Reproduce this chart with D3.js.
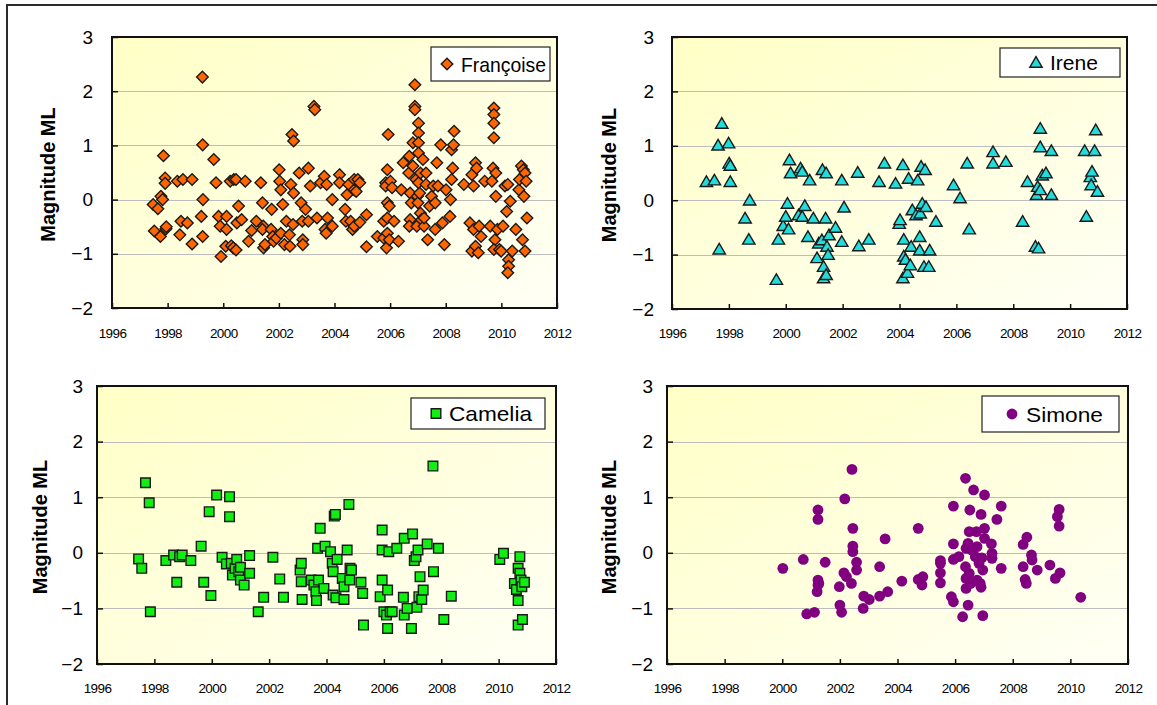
<!DOCTYPE html>
<html>
<head>
<meta charset="utf-8">
<script src="https://cdn.jsdelivr.net/npm/d3@7"></script>
<style>
  html, body { margin: 0; padding: 0; background: #ffffff; }
  svg { display: block; }
  text { font-family: "Liberation Sans", Arial, Helvetica, sans-serif; fill: #000; }
</style>
</head>
<body>
<svg id="chart" width="1157" height="705"></svg>
<script>
// ---------------- DATA ----------------
const xTickLabels = [1996, 1998, 2000, 2002, 2004, 2006, 2008, 2010, 2012];
const yTickLabels = [-2, -1, 0, 1, 2, 3];
const gridValues = [-1, 0, 1, 2];
const yAxisTitle = "Magnitude ML";
const seriesNames = ["Françoise", "Irene", "Camelia", "Simone"];

const francoise = [
[1997.52,-0.58],[1997.48,-0.09],[1997.65,-0.17],[1997.74,-0.68],[1997.76,0.06],[1997.82,0.0],[1997.85,0.81],[1997.91,0.4],[1997.91,0.3],[1997.94,-0.54],[1997.95,-0.5],
[1998.35,0.34],[1998.55,0.37],[1998.44,-0.65],[1998.48,-0.4],[1998.71,-0.43],[1998.88,0.37],[1998.88,-0.82],
[1999.25,2.26],[1999.26,1.01],[1999.27,0.0],[1999.21,-0.31],[1999.26,-0.68],[1999.66,0.74],[1999.74,0.31],[1999.83,-0.31],[1999.89,-0.49],[1999.92,-1.05],
[2000.12,-0.31],[2000.12,-0.55],[2000.09,-0.86],[2000.25,0.34],[2000.38,0.37],[2000.46,0.37],[2000.29,-0.85],[2000.36,-0.89],[2000.46,-0.93],[2000.55,-0.12],[2000.49,-0.43],[2000.66,-0.37],[2000.79,0.34],[2000.91,-0.77],
[2001.02,-0.57],[2001.19,-0.4],[2001.35,0.31],[2001.41,-0.06],[2001.44,-0.49],[2001.41,-0.55],[2001.45,-0.89],[2001.5,-0.83],[2001.74,-0.18],[2001.72,-0.55],[2001.78,-0.68],[2001.81,-0.77],[2001.91,-0.71],
[2002.01,0.55],[2002.03,0.34],[2002.07,0.18],[2002.07,-0.62],[2002.14,-0.09],[2002.2,-0.83],[2002.27,-0.4],[2002.38,-0.65],[2002.4,-0.86],[2002.43,0.28],[2002.47,1.2],[2002.53,1.08],[2002.53,0.12],[2002.51,-0.46],[2002.73,0.49],[2002.8,-0.06],[2002.84,-0.4],[2002.86,-0.74],[2002.86,-0.83],[2002.96,-0.18],
[2003.06,0.58],[2003.13,0.25],[2003.06,-0.4],[2003.26,1.72],[2003.29,1.66],[2003.37,-0.34],[2003.5,0.31],[2003.63,0.43],[2003.72,0.28],[2003.66,-0.55],[2003.7,-0.62],[2003.75,-0.34],[2003.92,0.0],[2003.92,-0.49],
[2004.18,0.46],[2004.18,0.31],[2004.38,-0.18],[2004.41,-0.4],[2004.45,0.09],[2004.51,0.28],[2004.58,-0.4],[2004.65,-0.55],[2004.71,-0.49],[2004.71,0.18],[2004.71,0.37],[2004.78,0.15],[2004.84,0.37],[2004.91,0.31],[2004.91,-0.42],
[2005.15,-0.28],[2005.15,-0.87],[2005.54,-0.68],[2005.77,-0.71],[2005.87,-0.89],[2005.93,1.2],[2005.9,0.55],[2005.84,0.31],[2005.84,0.25],[2005.9,-0.06],[2005.97,-0.12],[2005.77,-0.4],[2005.9,-0.34],[2005.9,-0.62],[2005.97,-0.74],
[2006.01,0.34],[2006.07,0.22],[2006.14,-0.4],[2006.3,-0.77],[2006.4,0.18],[2006.47,0.68],[2006.67,0.49],[2006.69,0.8],[2006.72,0.12],[2006.76,-0.06],[2006.72,-0.37],[2006.69,-0.49],[2006.82,1.05],[2006.82,0.62],[2006.89,2.12],[2006.89,1.72],[2006.89,1.66],[2006.96,-0.49],[2006.93,0.37],[2006.98,0.06],
[2007.0,-0.06],[2007.02,1.41],[2007.02,1.23],[2007.02,1.05],[2007.02,0.86],[2007.06,0.12],[2007.02,0.31],[2007.09,0.49],[2007.09,-0.25],[2007.13,-0.37],[2007.18,0.74],[2007.22,-0.49],[2007.29,0.49],[2007.22,-0.34],[2007.29,0.28],[2007.35,-0.74],[2007.42,-0.12],[2007.49,0.06],[2007.55,0.25],[2007.62,-0.06],[2007.62,-0.55],[2007.68,0.68],[2007.72,0.25],[2007.82,1.01],[2007.88,-0.43],[2007.95,-0.83],
[2008.01,0.18],[2008.15,-0.31],[2008.17,0.0],[2008.21,0.92],[2008.25,0.58],[2008.3,1.26],[2008.28,1.01],[2008.21,0.37],[2008.65,0.28],[2008.94,0.46],[2009.07,0.68],[2009.11,0.58],[2009.0,0.25],[2008.87,-0.43],[2009.0,-0.55],[2008.94,-0.95],[2009.07,-0.86],[2009.17,-0.98],[2009.2,-0.49],[2009.27,-0.68],
[2009.4,0.34],[2009.6,-0.49],[2009.73,1.69],[2009.73,1.57],[2009.73,1.41],[2009.73,1.14],[2009.7,0.58],[2009.66,0.34],[2009.8,0.49],[2009.8,0.06],[2009.77,-0.74],[2009.73,-0.92],[2009.86,-0.55],[2009.93,-0.92],[2009.99,-0.95],
[2010.06,-0.49],[2010.13,0.25],[2010.19,-0.22],[2010.23,0.28],[2010.26,-1.11],[2010.26,-1.23],[2010.23,-1.35],[2010.32,-0.03],[2010.39,-0.95],[2010.52,-0.55],[2010.63,0.18],[2010.65,0.37],[2010.72,0.62],[2010.76,-0.74],[2010.79,0.55],[2010.81,0.06],[2010.85,0.49],[2010.85,-0.95],[2010.89,0.34],[2010.92,-0.34]
];

const irene = [
[1997.21,0.34],[1997.49,0.37],[1997.62,1.01],[1997.75,1.41],[1997.66,-0.9],[1997.99,1.05],[1998.01,0.68],[1998.05,0.64],[1998.05,0.34],[1998.57,-0.33],[1998.73,0.0],[1998.7,-0.72],
[1999.67,-1.46],[1999.74,-0.72],[1999.91,-0.47],[2000.0,-0.3],[2000.06,-0.06],[2000.1,-0.53],[2000.13,0.74],[2000.17,0.5],[2000.45,-0.27],[2000.52,0.59],[2000.58,0.53],[2000.58,-0.3],[2000.67,-0.1],[2000.78,-0.67],[2000.84,0.37],[2000.97,-0.33],
[2001.1,-1.06],[2001.16,-0.79],[2001.27,-0.73],[2001.29,0.56],[2001.42,0.5],[2001.4,-0.33],[2001.33,-1.22],[2001.33,-1.43],[2001.42,-1.37],[2001.45,-0.85],[2001.49,-1.0],[2001.52,-0.64],[2001.75,-0.5],[2001.97,0.37],[2001.97,-0.76],[2002.05,-0.13],
[2002.53,0.51],[2002.57,-0.84],[2002.92,-0.72],[2003.28,0.34],[2003.47,0.68],[2003.86,0.31],[2003.99,-0.43],[2004.02,-0.36],[2004.12,0.65],[2004.15,-0.72],[2004.15,-1.03],[2004.21,-1.09],[2004.12,-1.43],[2004.28,-1.33],[2004.32,0.4],[2004.38,-1.19],[2004.41,-0.85],[2004.45,-0.18],
[2004.58,-0.27],[2004.64,0.37],[2004.71,-0.67],[2004.71,-0.92],[2004.73,-0.24],[2004.76,0.62],[2004.8,-0.06],[2004.86,-1.22],[2004.9,0.56],[2004.93,-0.12],[2005.03,-1.22],[2005.06,-0.92],[2005.28,-0.39],
[2005.9,0.28],[2006.13,0.04],[2006.38,0.68],[2006.45,-0.53],[2007.29,0.89],[2007.29,0.68],[2007.74,0.71],
[2008.33,-0.39],[2008.5,0.34],[2008.78,-0.85],[2008.82,0.1],[2008.86,0.25],[2008.89,-0.88],[2008.95,1.32],[2008.95,0.98],[2009.02,0.46],[2008.95,0.19],[2009.15,0.5],[2009.34,0.91],[2009.34,0.1],
[2010.51,0.91],[2010.57,-0.3],[2010.71,0.43],[2010.77,0.53],[2010.74,0.28],[2010.86,0.91],[2010.9,1.29],[2010.96,0.16]
];

const camelia = [
[1997.45,-0.11],[1997.56,-0.28],[1997.69,1.26],[1997.82,0.9],[1997.86,-1.06],[1998.4,-0.14],[1998.67,-0.04],[1998.78,-0.53],[1998.88,-0.07],[1998.97,-0.04],[1999.27,-0.14],[1999.63,0.12],[1999.72,-0.53],[1999.91,0.74],[1999.97,-0.77],
[2000.17,1.04],[2000.36,-0.08],[2000.51,-0.2],[2000.62,1.01],[2000.62,0.65],[2000.68,-0.19],[2000.72,-0.4],[2000.81,-0.28],[2000.87,-0.12],[2000.94,-0.34],[2001.0,-0.49],[2001.0,-0.26],[2001.13,-0.58],[2001.32,-0.05],[2001.32,-0.37],
[2001.62,-1.06],[2001.81,-0.8],[2002.13,-0.08],[2002.37,-0.47],[2002.5,-0.8],[2003.08,-0.31],[2003.12,-0.19],[2003.12,-0.52],[2003.15,-0.84],[2003.47,-0.49],[2003.56,-0.58],[2003.63,-0.7],[2003.65,-0.86],[2003.69,0.08],[2003.72,-0.49],[2003.78,0.44],[2003.91,-0.64],[2003.95,0.12],
[2004.14,0.02],[2004.2,-0.19],[2004.23,-0.34],[2004.23,-0.76],[2004.27,0.66],[2004.31,0.69],[2004.33,-0.81],[2004.37,-0.12],[2004.55,-0.46],[2004.61,-0.61],[2004.61,-0.84],[2004.72,0.05],[2004.78,0.87],[2004.81,-0.49],[2004.82,-0.28],[2004.87,-0.31],
[2005.2,-0.53],[2005.26,-0.73],[2005.29,-1.3],[2005.87,-0.79],[2005.94,0.41],[2005.94,0.05],[2005.94,-0.49],[2006.0,-1.06],[2006.09,-1.12],[2006.13,-0.67],[2006.13,-1.36],[2006.17,0.02],[2006.22,-1.06],[2006.29,-1.06],[2006.45,0.08],
[2006.68,-0.8],[2006.71,0.26],[2006.71,-1.12],[2006.81,-1.0],[2006.96,-1.36],[2007.0,0.34],[2007.06,-0.14],[2007.12,-0.07],[2007.15,-0.98],[2007.19,0.05],[2007.22,-0.79],[2007.26,-0.43],[2007.32,-0.84],[2007.37,-0.67],[2007.51,0.16],[2007.71,1.56],[2007.73,-0.34],[2007.9,0.08],
[2008.09,-1.2],[2008.35,-0.78],[2010.04,-0.12],[2010.17,-0.01],[2010.55,-0.55],[2010.62,-0.66],[2010.68,-0.28],[2010.68,-0.86],[2010.68,-1.3],[2010.74,-0.07],[2010.74,-0.37],[2010.78,-0.49],[2010.81,-0.61],[2010.83,-1.2],[2010.9,-0.53]
];

const simone = [
[2000.02,-0.28],[2000.73,-0.12],[2000.85,-1.1],[2001.12,-1.07],[2001.21,-0.7],[2001.24,0.77],[2001.24,0.6],[2001.24,-0.49],[2001.24,-0.58],[2001.27,-0.55],[2001.49,-0.17],
[2001.98,-0.61],[2002.0,-0.94],[2002.06,-1.07],[2002.14,-0.36],[2002.17,0.97],[2002.23,-0.43],[2002.4,-0.55],[2002.42,1.5],[2002.45,0.44],[2002.45,0.12],[2002.45,0.02],[2002.58,-0.17],[2002.58,-0.31],
[2002.83,-0.78],[2002.81,-1.0],[2003.02,-0.84],[2003.38,-0.25],[2003.38,-0.78],[2003.57,0.25],[2003.66,-0.7],[2004.15,-0.51],[2004.72,0.44],[2004.72,-0.48],[2004.85,-0.58],[2004.88,-0.43],
[2005.49,-0.14],[2005.49,-0.36],[2005.49,-0.54],[2005.49,-0.19],[2005.87,-0.79],[2005.94,-0.88],[2005.94,0.84],[2005.94,0.16],[2005.94,-0.12],[2006.13,-0.07],[2006.26,-1.15],
[2006.36,1.34],[2006.36,-0.25],[2006.38,0.08],[2006.38,-0.46],[2006.38,-0.64],[2006.45,-0.94],[2006.45,0.17],[2006.49,0.38],[2006.51,0.77],[2006.49,-0.37],[2006.54,-0.55],[2006.57,0.05],[2006.64,1.13],[2006.7,-0.07],[2006.74,0.38],[2006.76,0.11],[2006.76,-0.49],[2006.83,-0.19],[2006.87,-0.55],
[2006.9,0.69],[2006.9,-0.62],[2006.93,-0.09],[2006.96,-0.31],[2006.96,-1.13],[2007.02,1.04],[2007.02,0.44],[2007.02,0.26],[2007.26,0.16],[2007.28,-0.01],[2007.28,-0.1],[2007.45,0.6],[2007.6,0.84],[2007.6,-0.28],
[2008.36,0.15],[2008.36,-0.25],[2008.43,-0.48],[2008.47,-0.55],[2008.49,0.28],[2008.65,-0.04],[2008.67,-0.13],[2008.85,-0.31],[2009.29,-0.22],[2009.48,-0.46],[2009.55,0.65],[2009.61,0.78],[2009.61,0.48],[2009.64,-0.36],[2010.36,-0.8]
];

// ---------------- LAYOUT ----------------
const panels = [
  { data: francoise, name: seriesNames[0], l: 112, r: 557, t: 37, b: 308, yLabGap: 19, titleX: 48, xLabY: 338,
    leg: { x0: 431, x1: 550, y0: 47, y1: 81, mx: 447, tx: 461, tw: 85 }, marker: "diamond", fill: "#FF6600", stroke: "#1a1a1a" },
  { data: irene, name: seriesNames[1], l: 672, r: 1127, t: 37, b: 309, yLabGap: 18, titleX: 609, xLabY: 338,
    leg: { x0: 1000, x1: 1120, y0: 48, y1: 77, mx: 1036, tx: 1050, tw: 48 }, marker: "triangle", fill: "#22DCDC", stroke: "#1a1a1a" },
  { data: camelia, name: seriesNames[2], l: 97, r: 556, t: 386, b: 664, yLabGap: 14, titleX: 40, xLabY: 693,
    leg: { x0: 411, x1: 545, y0: 398, y1: 429, mx: 436, tx: 449, tw: 83 }, marker: "square", fill: "#11EE11", stroke: "#1a1a1a" },
  { data: simone, name: seriesNames[3], l: 667, r: 1128, t: 386, b: 664, yLabGap: 14, titleX: 609, xLabY: 693,
    leg: { x0: 982, x1: 1119, y0: 396, y1: 432, mx: 1012, tx: 1026, tw: 77 }, marker: "circle", fill: "#800080", stroke: "none" }
];

const svg = d3.select("#chart");

// gradient for plot backgrounds
const defs = svg.append("defs");
const grad = defs.append("linearGradient").attr("id", "plotBg")
  .attr("x1", "0").attr("y1", "0").attr("x2", "1").attr("y2", "1");
grad.append("stop").attr("offset", "0%").attr("stop-color", "#FFFFC6");
grad.append("stop").attr("offset", "100%").attr("stop-color", "#FFFFF6");

// outer frame (top + left visible)
svg.append("path")
  .attr("d", "M7,705 L7,5 L1157,5")
  .attr("fill", "none").attr("stroke", "#2b2b2b").attr("stroke-width", 2);

function markerPath(type) {
  if (type === "diamond") return "M0,-5.8L5.8,0L0,5.8L-5.8,0Z";
  if (type === "triangle") return "M0,-5.8L6.2,4.8L-6.2,4.8Z";
  if (type === "square") return "M-4.8,-4.8H4.8V4.8H-4.8Z";
  return null;
}

function drawMarker(sel, p) {
  if (p.marker === "circle") {
    sel.append("circle").attr("r", 5.4).attr("fill", p.fill);
  } else {
    sel.append("path").attr("d", markerPath(p.marker))
      .attr("fill", p.fill).attr("stroke", p.stroke).attr("stroke-width", 1.4)
      .attr("stroke-linejoin", "miter");
  }
}

panels.forEach(p => {
  const g = svg.append("g");
  const x = d3.scaleLinear().domain([xTickLabels[0], xTickLabels[xTickLabels.length - 1]]).range([p.l, p.r]);
  const y = d3.scaleLinear().domain([yTickLabels[0], yTickLabels[yTickLabels.length - 1]]).range([p.b, p.t]);

  // background
  g.append("rect").attr("x", p.l).attr("y", p.t).attr("width", p.r - p.l).attr("height", p.b - p.t)
    .attr("fill", "url(#plotBg)");

  // gridlines
  g.selectAll(".grid").data(gridValues).join("line")
    .attr("x1", p.l).attr("x2", p.r)
    .attr("y1", d => Math.round(y(d)) + 0.5).attr("y2", d => Math.round(y(d)) + 0.5)
    .attr("stroke", "#BDBDBD").attr("stroke-width", 1);

  // points
  const pts = g.append("g");
  p.data.forEach(d => {
    const m = pts.append("g").attr("transform", `translate(${x(d[0])},${y(d[1])})`);
    drawMarker(m, p);
  });

  // axes (ticks inside)
  const yAxis = d3.axisLeft(y).tickValues(yTickLabels).tickSize(-6).tickPadding(p.yLabGap)
    .tickFormat(d3.format("d"));
  const ya = g.append("g").attr("transform", `translate(${p.l},0)`).call(yAxis);
  ya.select(".domain").remove();
  ya.selectAll(".tick line").attr("stroke", "#111").attr("stroke-width", 1.5);
  ya.selectAll(".tick text").attr("font-size", 19).attr("fill", "#000")
    .style("font-family", '"Liberation Sans", Arial, sans-serif');

  const xAxis = d3.axisBottom(x).tickValues(xTickLabels).tickSize(-5).tickFormat(d3.format("d"));
  const xa = g.append("g").attr("transform", `translate(0,${p.b})`).call(xAxis);
  xa.select(".domain").remove();
  xa.selectAll(".tick line").attr("stroke", "#111").attr("stroke-width", 1.5);
  xa.selectAll(".tick text").remove();
  xa.selectAll(".tick").append("text")
    .attr("y", p.xLabY - p.b).attr("text-anchor", "middle")
    .attr("font-size", 13.5).attr("letter-spacing", -0.6).attr("fill", "#000")
    .text(d => d);

  // plot border
  g.append("rect").attr("x", p.l).attr("y", p.t).attr("width", p.r - p.l).attr("height", p.b - p.t)
    .attr("fill", "none").attr("stroke", "#111").attr("stroke-width", 2);

  // axis title
  const cy = (p.t + p.b) / 2 + 2;
  g.append("text")
    .attr("transform", `translate(${p.titleX},${cy}) rotate(-90)`)
    .attr("text-anchor", "middle").attr("dy", "0.36em")
    .attr("font-size", 20).attr("font-weight", "bold")
    .text(yAxisTitle);

  // legend
  const L = p.leg;
  g.append("rect").attr("x", L.x0).attr("y", L.y0).attr("width", L.x1 - L.x0).attr("height", L.y1 - L.y0)
    .attr("fill", "#ffffff").attr("stroke", "#222").attr("stroke-width", 1.2);
  const lc = (L.y0 + L.y1) / 2;
  const lm = g.append("g").attr("transform", `translate(${L.mx},${lc})`);
  drawMarker(lm, p);
  g.append("text").attr("x", L.tx).attr("y", lc).attr("dy", "0.36em")
    .attr("font-size", 21).attr("textLength", L.tw).attr("lengthAdjust", "spacingAndGlyphs")
    .text(p.name);
});
</script>
</body>
</html>
